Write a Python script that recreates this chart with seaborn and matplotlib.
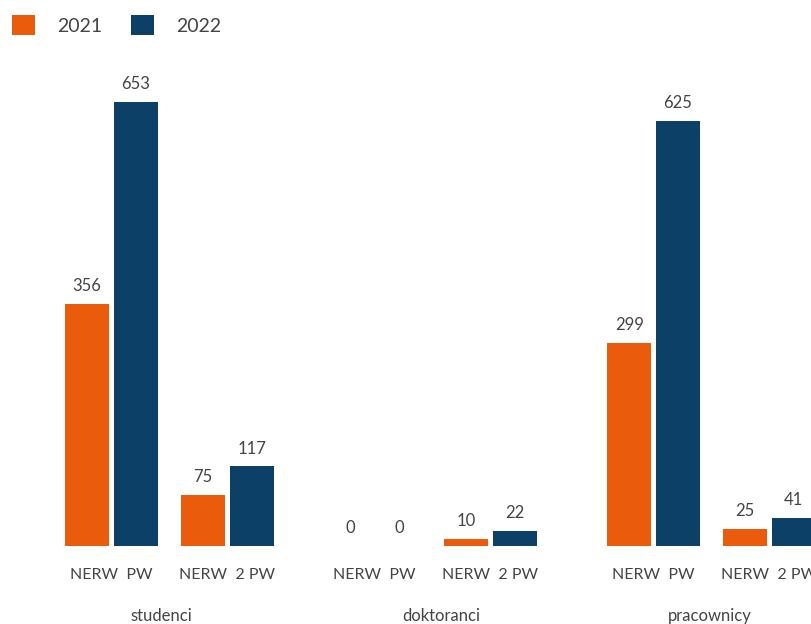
import matplotlib
matplotlib.use("Agg")
import matplotlib.pyplot as plt
from matplotlib.patches import Patch
import seaborn as sns
import pandas as pd

# ---- data ----
categories = ["studenci", "doktoranci", "pracownicy"]
subgroups = ["NERW  PW", "NERW  2 PW"]
years = ["2021", "2022"]
values_2021 = {"studenci": [356, 75], "doktoranci": [0, 10], "pracownicy": [299, 25]}
values_2022 = {"studenci": [653, 117], "doktoranci": [0, 22], "pracownicy": [625, 41]}

colors = {"2021": "#EA5B0C", "2022": "#0C4066"}
text_color = "#444444"

sns.set_theme(style="white")
plt.rcParams["font.family"] = ["Lato", "DejaVu Sans"]
plt.rcParams["font.weight"] = "normal"

W, H = 811, 624
fig = plt.figure(figsize=(W / 100, H / 100), dpi=100)

baseline_px = 546
top_px = 60
px_per_unit = 444 / 653
ymax = (baseline_px - top_px) / px_per_unit
unit_px = 116
first_center_px = [111.5, 374.5, 653.5]
label_center_px = [161, 441, 710]

for i, cat in enumerate(categories):
    rows = []
    for j, sg in enumerate(subgroups):
        rows.append({"sub": sg, "year": "2021", "value": values_2021[cat][j]})
        rows.append({"sub": sg, "year": "2022", "value": values_2022[cat][j]})
    df = pd.DataFrame(rows)

    left_px = first_center_px[i] - unit_px / 2
    ax = fig.add_axes([left_px / W, (H - baseline_px) / H,
                       2 * unit_px / W, (baseline_px - top_px) / H])
    sns.barplot(data=df, x="sub", y="value", hue="year", order=subgroups,
                hue_order=years, palette=colors, width=0.84, gap=0.1,
                ax=ax, legend=False, saturation=1, linewidth=0)
    ax.set_xlim(-0.5, 1.5)
    ax.set_ylim(0, ymax)
    for cont in ax.containers:
        ax.bar_label(cont, padding=7, fontsize=12, color=text_color)
    ax.set_ylabel("")
    ax.set_xlabel("")
    ax.set_yticks([])
    ax.tick_params(axis="x", length=0, pad=16, labelsize=11.5,
                   labelcolor=text_color)
    for s in ax.spines.values():
        s.set_visible(False)
    ax.patch.set_alpha(0)
    fig.text(label_center_px[i] / W, 1 - 621 / H, cat, ha="center",
             va="baseline", fontsize=12, color=text_color)

handles = [Patch(facecolor=colors[y], edgecolor="none", label=y) for y in years]
leg = fig.legend(handles=handles, loc="upper left",
                 bbox_to_anchor=(12 / W, 1 - 15 / H), ncol=2, frameon=False,
                 fontsize=14, handlelength=1.2, handleheight=1.2,
                 handletextpad=1.1, columnspacing=1.5, borderpad=0,
                 borderaxespad=0)
for t in leg.get_texts():
    t.set_color(text_color)

fig.savefig("out.png", dpi=100)
